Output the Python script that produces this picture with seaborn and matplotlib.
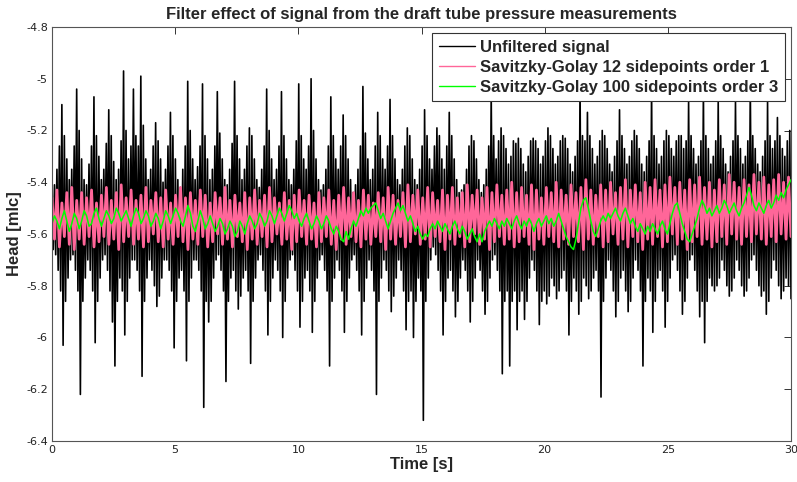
import numpy as np
import pandas as pd
import matplotlib
matplotlib.use("Agg")
import matplotlib.pyplot as plt
import seaborn as sns
from matplotlib.ticker import FuncFormatter, FixedLocator

sns.set_theme(style="white")
plt.rcParams["font.family"] = ["Liberation Sans", "DejaVu Sans"]

# ---------------- data ----------------
# Unfiltered signal: upper and lower extremes, one pair every 0.1 s
raw_hi = [
    -5.43, -5.41, -5.35, -5.26, -5.10, -5.22, -5.31, -5.39, -5.35, -5.26,
    -5.04, -5.20, -5.31, -5.39, -5.41, -5.33, -5.26, -5.07, -5.22, -5.30,
    -5.39, -5.35, -5.25, -5.12, -5.22, -5.32, -5.39, -5.35, -5.24, -4.97,
    -5.20, -5.31, -5.26, -5.04, -5.22, -5.26, -4.99, -5.18, -5.31, -5.39,
    -5.35, -5.26, -5.17, -5.24, -5.31, -5.40, -5.35, -5.26, -5.13, -5.22,
    -5.31, -5.39, -5.42, -5.35, -5.26, -5.01, -5.20, -5.31, -5.39, -5.34,
    -5.26, -5.02, -5.22, -5.31, -5.39, -5.35, -5.26, -5.05, -5.21, -5.31,
    -5.39, -5.41, -5.35, -5.25, -5.01, -5.22, -5.31, -5.39, -5.35, -5.26,
    -5.19, -5.22, -5.31, -5.39, -5.42, -5.35, -5.26, -5.04, -5.20, -5.31,
    -5.39, -5.35, -5.26, -5.05, -5.22, -5.31, -5.39, -5.41, -5.35, -5.24,
    -5.02, -5.22, -5.31, -5.35, -5.26, -5.00, -5.20, -5.31, -5.39, -5.43,
    -5.41, -5.35, -5.26, -5.07, -5.22, -5.31, -5.35, -5.26, -5.14, -5.22,
    -5.31, -5.39, -5.44, -5.41, -5.35, -5.26, -5.03, -5.21, -5.31, -5.39,
    -5.35, -5.26, -5.13, -5.22, -5.31, -5.35, -5.26, -5.08, -5.22, -5.31,
    -5.39, -5.41, -5.35, -5.26, -5.19, -5.22, -5.31, -5.39, -5.41, -5.35,
    -5.26, -5.12, -5.22, -5.31, -5.35, -5.26, -5.19, -5.22, -5.31, -5.35,
    -5.26, -5.13, -5.22, -5.31, -5.39, -5.44, -5.43, -5.41, -5.35, -5.26,
    -5.22, -5.24, -5.31, -5.39, -5.44, -5.41, -5.35, -5.26, -5.06, -5.22,
    -5.31, -5.24, -5.19, -5.22, -5.27, -5.33, -5.30, -5.24, -5.25, -5.23,
    -5.27, -5.33, -5.36, -5.30, -5.24, -5.23, -5.24, -5.27, -5.33, -5.30,
    -5.24, -5.19, -5.22, -5.27, -5.33, -5.30, -5.24, -5.22, -5.23, -5.27,
    -5.33, -5.36, -5.30, -5.24, -5.02, -5.22, -5.24, -5.13, -5.22, -5.27,
    -5.33, -5.30, -5.24, -5.20, -5.22, -5.27, -5.33, -5.36, -5.30, -5.24,
    -5.12, -5.22, -5.27, -5.33, -5.30, -5.24, -5.20, -5.22, -5.27, -5.33,
    -5.36, -5.30, -5.24, -5.03, -5.22, -5.27, -5.33, -5.30, -5.24, -5.20,
    -5.22, -5.27, -5.30, -5.24, -5.22, -5.22, -5.27, -5.24, -5.09, -5.22,
    -5.27, -5.33, -5.30, -5.24, -5.04, -5.22, -5.27, -5.33, -5.30, -5.24,
    -5.09, -5.22, -5.27, -5.33, -5.36, -5.30, -5.24, -5.09, -5.22, -5.27,
    -5.33, -5.30, -5.24, -5.03, -5.22, -5.27, -5.33, -5.36, -5.30, -5.24,
    -5.09, -5.22, -5.27, -5.24, -5.15, -5.22, -5.27, -5.30, -5.24, -5.20,
]
raw_lo = [
    -5.66, -5.68, -5.74, -5.82, -6.03, -5.86, -5.77, -5.70, -5.68, -5.74,
    -5.82, -6.22, -5.86, -5.77, -5.70, -5.74, -5.82, -6.02, -5.86, -5.77,
    -5.70, -5.68, -5.74, -5.82, -5.94, -6.11, -5.86, -5.77, -5.82, -5.99,
    -5.86, -5.77, -5.70, -5.70, -5.74, -5.82, -6.15, -5.86, -5.77, -5.70,
    -5.74, -5.80, -5.88, -5.84, -5.77, -5.70, -5.70, -5.74, -5.82, -6.04,
    -5.86, -5.77, -5.74, -5.82, -6.09, -5.86, -5.77, -5.70, -5.70, -5.74,
    -5.82, -6.27, -5.86, -5.94, -5.86, -5.77, -5.70, -5.68, -5.74, -5.82,
    -6.17, -5.86, -5.77, -5.74, -5.82, -5.89, -5.84, -5.77, -5.74, -5.82,
    -6.10, -5.86, -5.77, -5.70, -5.68, -5.74, -5.82, -5.99, -5.86, -5.77,
    -5.70, -5.74, -5.82, -6.00, -5.86, -5.77, -5.70, -5.68, -5.74, -5.82,
    -5.96, -5.86, -5.77, -5.74, -5.82, -5.98, -5.86, -5.77, -5.70, -5.68,
    -5.74, -5.82, -6.11, -5.86, -5.77, -5.70, -5.74, -5.82, -5.98, -5.86,
    -5.77, -5.70, -5.68, -5.74, -5.82, -5.99, -5.86, -5.77, -5.70, -5.74,
    -5.82, -6.22, -5.86, -5.77, -5.70, -5.74, -5.82, -5.90, -5.84, -5.77,
    -5.70, -5.74, -5.82, -5.97, -5.86, -5.82, -6.00, -5.86, -5.77, -5.82,
    -6.32, -5.86, -5.77, -5.70, -5.65, -5.68, -5.74, -5.82, -5.99, -5.86,
    -5.77, -5.74, -5.82, -5.92, -5.86, -5.77, -5.70, -5.74, -5.82, -5.94,
    -5.86, -5.77, -5.70, -5.74, -5.82, -5.91, -5.86, -5.77, -5.70, -5.68,
    -5.74, -5.82, -6.14, -5.86, -5.82, -6.11, -5.86, -5.82, -5.97, -5.86,
    -5.82, -5.93, -5.86, -5.77, -5.70, -5.74, -5.82, -5.95, -5.86, -5.82,
    -5.87, -5.84, -5.77, -5.80, -5.85, -5.82, -5.77, -5.74, -5.82, -5.99,
    -5.86, -5.77, -5.82, -5.91, -5.86, -5.77, -5.80, -5.85, -5.82, -5.77,
    -5.74, -5.82, -6.23, -5.86, -5.77, -5.70, -5.74, -5.82, -5.92, -5.86,
    -5.77, -5.74, -5.82, -5.90, -5.86, -5.77, -5.70, -5.74, -5.82, -6.11,
    -5.86, -5.77, -5.82, -5.98, -5.86, -5.77, -5.74, -5.82, -5.96, -5.86,
    -5.77, -5.70, -5.68, -5.74, -5.82, -5.91, -5.86, -5.77, -5.70, -5.68,
    -5.74, -5.82, -5.92, -5.86, -6.02, -5.86, -5.77, -5.80, -5.82, -5.80,
    -5.77, -5.70, -5.74, -5.80, -5.84, -5.82, -5.77, -5.70, -5.74, -5.80,
    -5.84, -5.82, -5.77, -5.70, -5.68, -5.74, -5.80, -5.84, -5.82, -5.91,
    -5.86, -5.77, -5.70, -5.74, -5.80, -5.85, -5.82, -5.77, -5.80, -5.85,
]
# Savitzky-Golay 12 sidepoints order 1: upper / lower extremes every 0.2 s
sg12_hi = [
    -5.46, -5.43, -5.48, -5.44, -5.42, -5.47, -5.44, -5.46, -5.43, -5.48,
    -5.45, -5.42, -5.47, -5.44, -5.41, -5.46, -5.43, -5.47, -5.45, -5.42,
    -5.47, -5.44, -5.46, -5.43, -5.48, -5.45, -5.42, -5.46, -5.44, -5.47,
    -5.43, -5.45, -5.48, -5.44, -5.46, -5.42, -5.47, -5.45, -5.48, -5.44,
    -5.46, -5.43, -5.47, -5.45, -5.42, -5.46, -5.48, -5.44, -5.47, -5.45,
    -5.43, -5.47, -5.45, -5.48, -5.44, -5.46, -5.43, -5.47, -5.45, -5.42,
    -5.46, -5.44, -5.47, -5.43, -5.45, -5.48, -5.44, -5.46, -5.42, -5.45,
    -5.47, -5.44, -5.41, -5.45, -5.43, -5.46, -5.42, -5.44, -5.47, -5.43,
    -5.45, -5.42, -5.46, -5.44, -5.41, -5.45, -5.43, -5.46, -5.42, -5.44,
    -5.41, -5.45, -5.43, -5.40, -5.44, -5.42, -5.45, -5.41, -5.43, -5.46,
    -5.42, -5.44, -5.40, -5.43, -5.45, -5.41, -5.44, -5.42, -5.39, -5.43,
    -5.45, -5.41, -5.43, -5.40, -5.44, -5.42, -5.39, -5.43, -5.41, -5.44,
    -5.40, -5.42, -5.39, -5.43, -5.41, -5.38, -5.42, -5.40, -5.43, -5.39,
    -5.41, -5.38, -5.42, -5.40, -5.43, -5.39, -5.41, -5.37, -5.40, -5.42,
    -5.39, -5.41, -5.37, -5.40, -5.38, -5.41, -5.39, -5.37, -5.40, -5.38,
]
sg12_lo = [
    -5.62, -5.65, -5.61, -5.64, -5.66, -5.62, -5.64, -5.61, -5.65, -5.63,
    -5.61, -5.64, -5.62, -5.66, -5.63, -5.61, -5.64, -5.62, -5.65, -5.63,
    -5.60, -5.63, -5.65, -5.62, -5.64, -5.61, -5.63, -5.66, -5.62, -5.64,
    -5.61, -5.65, -5.63, -5.60, -5.64, -5.62, -5.65, -5.61, -5.63, -5.66,
    -5.62, -5.64, -5.61, -5.65, -5.63, -5.60, -5.64, -5.62, -5.66, -5.63,
    -5.61, -5.64, -5.62, -5.65, -5.63, -5.61, -5.64, -5.66, -5.62, -5.64,
    -5.61, -5.63, -5.65, -5.62, -5.64, -5.61, -5.63, -5.66, -5.62, -5.64,
    -5.61, -5.65, -5.63, -5.60, -5.64, -5.62, -5.65, -5.61, -5.63, -5.66,
    -5.62, -5.64, -5.61, -5.65, -5.63, -5.60, -5.64, -5.62, -5.66, -5.63,
    -5.61, -5.64, -5.62, -5.65, -5.63, -5.61, -5.64, -5.66, -5.62, -5.64,
    -5.61, -5.63, -5.65, -5.62, -5.64, -5.61, -5.63, -5.66, -5.62, -5.64,
    -5.61, -5.65, -5.63, -5.60, -5.64, -5.62, -5.65, -5.61, -5.63, -5.66,
    -5.62, -5.64, -5.61, -5.65, -5.63, -5.60, -5.64, -5.62, -5.66, -5.63,
    -5.61, -5.64, -5.62, -5.65, -5.63, -5.61, -5.64, -5.60, -5.62, -5.64,
    -5.61, -5.63, -5.60, -5.62, -5.64, -5.61, -5.63, -5.60, -5.62, -5.61,
]
# Savitzky-Golay 100 sidepoints order 3: one value every 0.1 s
sg100 = [
    -5.56, -5.53, -5.55, -5.58, -5.54, -5.51, -5.55, -5.59, -5.56, -5.52,
    -5.54, -5.58, -5.55, -5.51, -5.53, -5.57, -5.56, -5.52, -5.50, -5.54,
    -5.57, -5.54, -5.51, -5.53, -5.56, -5.54, -5.50, -5.52, -5.55, -5.53,
    -5.51, -5.54, -5.57, -5.53, -5.50, -5.52, -5.56, -5.54, -5.51, -5.53,
    -5.57, -5.55, -5.52, -5.54, -5.58, -5.55, -5.51, -5.53, -5.56, -5.53,
    -5.50, -5.52, -5.55, -5.57, -5.53, -5.49, -5.52, -5.57, -5.59, -5.55,
    -5.51, -5.54, -5.58, -5.56, -5.53, -5.56, -5.59, -5.57, -5.54, -5.56,
    -5.60, -5.58, -5.55, -5.57, -5.61, -5.59, -5.55, -5.57, -5.60, -5.56,
    -5.53, -5.55, -5.58, -5.56, -5.52, -5.54, -5.57, -5.55, -5.51, -5.53,
    -5.56, -5.53, -5.50, -5.52, -5.55, -5.52, -5.49, -5.51, -5.54, -5.52,
    -5.55, -5.57, -5.54, -5.52, -5.55, -5.58, -5.56, -5.53, -5.55, -5.58,
    -5.56, -5.53, -5.55, -5.58, -5.60, -5.57, -5.59, -5.62, -5.63, -5.59,
    -5.62, -5.58, -5.55, -5.57, -5.54, -5.51, -5.53, -5.50, -5.52, -5.50,
    -5.49, -5.48, -5.51, -5.54, -5.52, -5.55, -5.58, -5.55, -5.52, -5.50,
    -5.48, -5.51, -5.49, -5.52, -5.55, -5.53, -5.56, -5.59, -5.57, -5.60,
    -5.62, -5.60, -5.61, -5.58, -5.56, -5.58, -5.55, -5.57, -5.59, -5.56,
    -5.58, -5.60, -5.57, -5.55, -5.58, -5.60, -5.57, -5.59, -5.62, -5.60,
    -5.58, -5.61, -5.63, -5.60, -5.63, -5.59, -5.57, -5.55, -5.57, -5.54,
    -5.56, -5.58, -5.55, -5.57, -5.54, -5.56, -5.58, -5.55, -5.53, -5.56,
    -5.58, -5.55, -5.57, -5.54, -5.56, -5.59, -5.56, -5.54, -5.57, -5.55,
    -5.53, -5.56, -5.54, -5.57, -5.55, -5.52, -5.55, -5.58, -5.61, -5.63,
    -5.65, -5.66, -5.62, -5.56, -5.50, -5.47, -5.46, -5.50, -5.55, -5.59,
    -5.61, -5.58, -5.55, -5.53, -5.55, -5.52, -5.54, -5.52, -5.50, -5.53,
    -5.55, -5.52, -5.50, -5.53, -5.56, -5.54, -5.57, -5.59, -5.56, -5.58,
    -5.60, -5.57, -5.59, -5.56, -5.58, -5.60, -5.57, -5.55, -5.58, -5.60,
    -5.56, -5.52, -5.49, -5.48, -5.52, -5.56, -5.59, -5.62, -5.63, -5.60,
    -5.57, -5.54, -5.50, -5.47, -5.49, -5.52, -5.50, -5.53, -5.51, -5.49,
    -5.52, -5.50, -5.47, -5.49, -5.52, -5.50, -5.48, -5.51, -5.53, -5.50,
    -5.48, -5.45, -5.42, -5.45, -5.49, -5.51, -5.48, -5.50, -5.52, -5.49,
    -5.47, -5.50, -5.48, -5.45, -5.47, -5.44, -5.46, -5.43, -5.41, -5.39,
]
series_names = ["Unfiltered signal",
                "Savitzky-Golay 12 sidepoints order 1",
                "Savitzky-Golay 100 sidepoints order 3"]
series_colors = ["#000000", "#ff6699", "#00ff00"]
x_ticks = [0, 5, 10, 15, 20, 25, 30]
y_ticks = [-6.4, -6.2, -6.0, -5.8, -5.6, -5.4, -5.2, -5.0, -4.8]
t_end = 30.0


def interleave(a, b):
    out = np.empty(len(a) + len(b))
    out[0::2] = a
    out[1::2] = b
    return out


raw = interleave(raw_hi, raw_lo)
sg12 = interleave(sg12_hi, sg12_lo)
sg100_v = np.array(sg100)

df = pd.concat([
    pd.DataFrame({"t": np.linspace(0, t_end, len(raw)), "v": raw, "s": series_names[0]}),
    pd.DataFrame({"t": np.linspace(0, t_end, len(sg12)), "v": sg12, "s": series_names[1]}),
    pd.DataFrame({"t": np.linspace(0, t_end, len(sg100_v)), "v": sg100_v, "s": series_names[2]}),
], ignore_index=True)

fig = plt.figure(figsize=(7.97, 4.82), dpi=100)
fig.patch.set_facecolor("white")
ax = fig.add_axes([52 / 797, 41 / 482, 739 / 797, 414 / 482])
ax.set_facecolor("white")

widths = [1.2, 2.0, 1.1]
for name, col, lw in zip(series_names, series_colors, widths):
    sub = df[df["s"] == name]
    sns.lineplot(data=sub, x="t", y="v", color=col, linewidth=lw,
                 estimator=None, sort=False, ax=ax, label=name)

ax.set_xlim(0, 30)
ax.set_ylim(-6.4, -4.8)
ax.xaxis.set_major_locator(FixedLocator(x_ticks))
ax.yaxis.set_major_locator(FixedLocator(y_ticks))
ax.yaxis.set_major_formatter(FuncFormatter(lambda v, p: "%g" % round(v, 2)))
ax.tick_params(direction="in", length=5, width=0.7, colors="#333333",
               top=True, right=True, labelsize=8, pad=3)
for lab in ax.get_xticklabels() + ax.get_yticklabels():
    lab.set_color("#222222")
    lab.set_family("DejaVu Sans")
for sp in ax.spines.values():
    sp.set_color("#555555")
    sp.set_linewidth(0.8)

ax.set_xlabel("Time [s]", fontsize=12, fontweight="bold", labelpad=1)
ax.set_ylabel("Head [mlc]", fontsize=12, fontweight="bold", labelpad=3)
ax.set_title("Filter effect of signal from the draft tube pressure measurements",
             fontsize=12, fontweight="bold", pad=6)

leg = ax.legend(loc="upper right", bbox_to_anchor=(0.992, 0.9855),
                borderaxespad=0, fancybox=False, framealpha=1,
                edgecolor="#333333", prop={"weight": "bold", "size": 12},
                handlelength=2.2, handletextpad=0.3, labelspacing=0.3,
                borderpad=0.4)
leg.get_frame().set_linewidth(0.8)
for h in leg.get_lines():
    h.set_linewidth(1.0)

fig.savefig("out.png", dpi=100, facecolor="white")
